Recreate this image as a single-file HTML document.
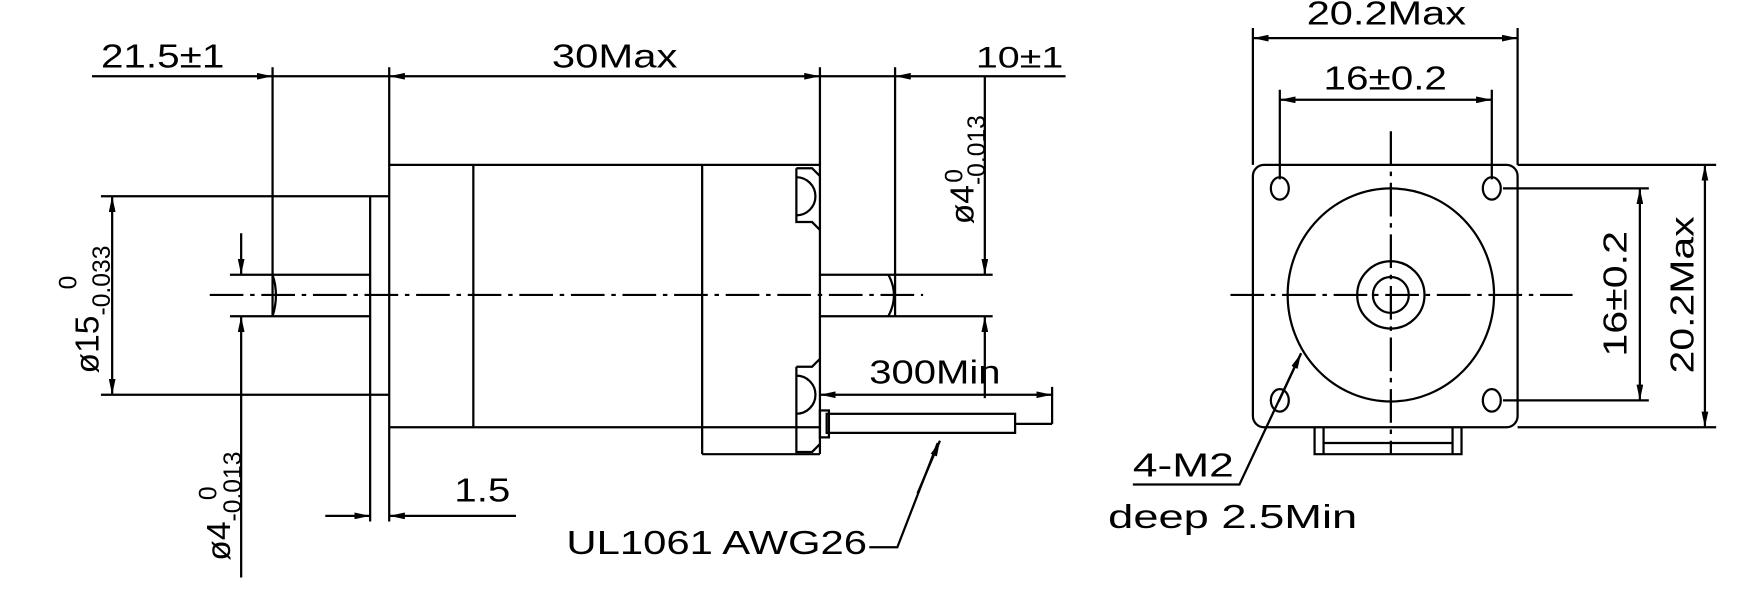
<!DOCTYPE html>
<html><head><meta charset="utf-8"><style>
html,body{margin:0;padding:0;background:#fff;width:1761px;height:591px;overflow:hidden}
svg{display:block}
text{font-family:"Liberation Sans",sans-serif;fill:#000}
</style></head><body>
<svg width="1761" height="591" viewBox="0 0 1570 527" preserveAspectRatio="none" xmlns="http://www.w3.org/2000/svg">
<defs>
<marker id="a" viewBox="0 0 14 6" refX="14" refY="3" markerWidth="14" markerHeight="6" markerUnits="userSpaceOnUse" orient="auto-start-reverse"><path d="M0,0L14,3L0,6z" fill="#000"/></marker>
</defs>
<g stroke="#000" stroke-width="2" fill="none">
<line x1="82" y1="68" x2="243" y2="68" marker-end="url(#a)"/>
<line x1="243" y1="68" x2="347" y2="68"/>
<line x1="347" y1="68" x2="731" y2="68" marker-start="url(#a)" marker-end="url(#a)"/>
<line x1="731" y1="68" x2="798" y2="68"/>
<line x1="950" y1="68" x2="798" y2="68" marker-end="url(#a)"/>
<line x1="243" y1="60" x2="243" y2="282"/>
<line x1="347" y1="60" x2="347" y2="465"/>
<line x1="731" y1="60" x2="731" y2="405"/>
<line x1="798" y1="60" x2="798" y2="282"/>
<line x1="347" y1="147" x2="731" y2="147"/>
<line x1="347" y1="381" x2="731" y2="381"/>
<line x1="422" y1="147" x2="422" y2="381"/>
<line x1="626" y1="147" x2="626" y2="405"/>
<line x1="626" y1="405" x2="731" y2="405"/>
<path d="M710,150 h14 l7,7 M710,150 v48 h14 l7,7"/>
<path d="M710,158 a16,16 0 0 1 0,34"/>
<path d="M710,327 h14 l7,-7 M710,327 v76 h14 l7,-7"/>
<path d="M710,335 a16,16 0 0 1 0,34"/>
<line x1="330" y1="175" x2="330" y2="465"/>
<line x1="90" y1="175" x2="347" y2="175"/>
<line x1="90" y1="352" x2="347" y2="352"/>
<line x1="100" y1="175" x2="100" y2="352" marker-start="url(#a)" marker-end="url(#a)"/>
<line x1="205" y1="245" x2="330" y2="245"/>
<line x1="205" y1="282" x2="330" y2="282"/>
<path d="M243,245 q6,18 0,37"/>
<line x1="731" y1="245" x2="885" y2="245"/>
<line x1="731" y1="282" x2="885" y2="282"/>
<path d="M792,245 q10,18 0,37"/>
<line x1="187" y1="263" x2="823" y2="263" stroke-dasharray="30,6,4,6"/>
<line x1="878" y1="68" x2="878" y2="245" marker-end="url(#a)"/>
<line x1="878" y1="355" x2="878" y2="282" marker-end="url(#a)"/>
<line x1="215" y1="208" x2="215" y2="245" marker-end="url(#a)"/>
<line x1="215" y1="515" x2="215" y2="282" marker-end="url(#a)"/>
<line x1="290" y1="460" x2="330" y2="460" marker-end="url(#a)"/>
<line x1="460" y1="460" x2="347" y2="460" marker-end="url(#a)"/>
<rect x="737" y="369" width="168" height="17"/>
<rect x="731" y="366" width="8" height="24"/>
<line x1="731" y1="352" x2="938" y2="352" marker-start="url(#a)" marker-end="url(#a)"/>
<line x1="938" y1="345" x2="938" y2="378"/>
<line x1="905" y1="378" x2="938" y2="378"/>
<path d="M775,488 h25 L836,395"/>
<line x1="818" y1="440" x2="838" y2="393" marker-end="url(#a)"/>

<rect x="1117" y="147" width="236" height="234" rx="10"/>
<ellipse cx="1141" cy="168" rx="8" ry="10"/>
<ellipse cx="1330" cy="168" rx="8" ry="10"/>
<ellipse cx="1141" cy="357" rx="8" ry="10"/>
<ellipse cx="1330" cy="357" rx="8" ry="10"/>
<ellipse cx="1240" cy="263" rx="92" ry="95"/>
<ellipse cx="1240" cy="263" rx="30" ry="30"/>
<ellipse cx="1240" cy="263" rx="16" ry="16"/>
<line x1="1097" y1="263" x2="1402" y2="263" stroke-dasharray="30,6,4,6"/>
<line x1="1240" y1="117" x2="1240" y2="405" stroke-dasharray="30,6,4,6"/>
<path d="M1172,381 v24 h131 v-24 M1180,381 v24 M1295,381 v24 M1180,395 h115"/>
<line x1="1117" y1="25" x2="1117" y2="147"/>
<line x1="1353" y1="25" x2="1353" y2="147"/>
<line x1="1117" y1="34" x2="1353" y2="34" marker-start="url(#a)" marker-end="url(#a)"/>
<line x1="1141" y1="80" x2="1141" y2="160"/>
<line x1="1330" y1="80" x2="1330" y2="160"/>
<line x1="1141" y1="89" x2="1330" y2="89" marker-start="url(#a)" marker-end="url(#a)"/>
<line x1="1353" y1="147" x2="1530" y2="147"/>
<line x1="1353" y1="381" x2="1530" y2="381"/>
<line x1="1520" y1="147" x2="1520" y2="381" marker-start="url(#a)" marker-end="url(#a)"/>
<line x1="1340" y1="168" x2="1470" y2="168"/>
<line x1="1340" y1="357" x2="1470" y2="357"/>
<line x1="1462" y1="168" x2="1462" y2="357" marker-start="url(#a)" marker-end="url(#a)"/>
<path d="M1010,432 h95 L1160,315"/>
<line x1="1140" y1="358" x2="1160" y2="315" marker-end="url(#a)"/>
</g>

<g font-size="30">
<text x="90" y="60" textLength="110" lengthAdjust="spacingAndGlyphs">21.5±1</text>
<text x="492" y="60" textLength="112" lengthAdjust="spacingAndGlyphs">30Max</text>
<text x="870" y="60" textLength="78" lengthAdjust="spacingAndGlyphs" font-size="26">10±1</text>
<text x="775" y="342" textLength="117" lengthAdjust="spacingAndGlyphs">300Min</text>
<text x="405" y="447" textLength="50" lengthAdjust="spacingAndGlyphs">1.5</text>
<text x="505" y="494" textLength="268" lengthAdjust="spacingAndGlyphs">UL1061 AWG26</text>
<text x="1165" y="22" textLength="142" lengthAdjust="spacingAndGlyphs">20.2Max</text>
<text x="1180" y="80" textLength="110" lengthAdjust="spacingAndGlyphs">16±0.2</text>
<text x="1010" y="425" textLength="90" lengthAdjust="spacingAndGlyphs">4-M2</text>
<text x="988" y="471" textLength="222" lengthAdjust="spacingAndGlyphs">deep 2.5Min</text>
<text transform="translate(1450,318) rotate(-90)" textLength="112" lengthAdjust="spacingAndGlyphs">16±0.2</text>
<text transform="translate(1510,333) rotate(-90)" textLength="140" lengthAdjust="spacingAndGlyphs">20.2Max</text>
<text transform="translate(88,333) rotate(-90)">ø15<tspan font-size="22" dy="10">-0.033</tspan></text>
<text transform="translate(68,258) rotate(-90)" font-size="22">0</text>
<text transform="translate(868,200) rotate(-90)">ø4<tspan font-size="22" dy="10">-0.013</tspan></text>
<text transform="translate(858,163) rotate(-90)" font-size="22">0</text>
<text transform="translate(205,500) rotate(-90)">ø4<tspan font-size="22" dy="10">-0.013</tspan></text>
<text transform="translate(193,446) rotate(-90)" font-size="22">0</text>
</g>
</svg>
</body></html>
